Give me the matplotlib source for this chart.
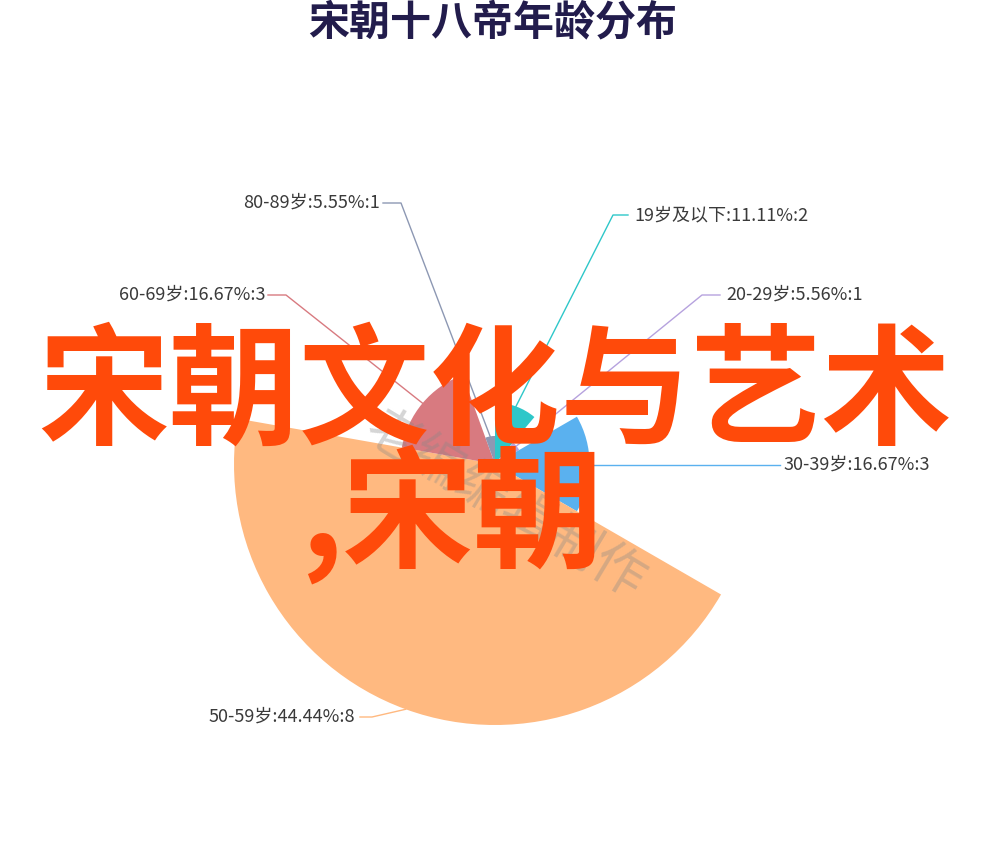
import math
import matplotlib
matplotlib.use("Agg")
import matplotlib.pyplot as plt
from matplotlib.patches import Wedge

plt.rcParams['font.family'] = ['Noto Sans CJK SC', 'DejaVu Sans']

# data
names = ["19岁及以下", "20-29岁", "30-39岁", "50-59岁", "60-69岁", "80-89岁"]
counts = [2, 1, 3, 8, 3, 1]
pcts = ["11.11%", "5.56%", "16.67%", "44.44%", "16.67%", "5.55%"]
colors = ["#2ec7c9", "#b6a2de", "#5ab1ef", "#ffb980", "#d87a80", "#8d98b3"]

W, H = 989, 867
fig = plt.figure(figsize=(W / 100, H / 100), dpi=100)
ax = fig.add_axes([0, 0, 1, 1])
ax.set_xlim(0, W)
ax.set_ylim(H, 0)
ax.axis("off")

cx, cy = 495, 464
r_min, r_max = 28, 261
total = sum(counts)
vmin, vmax = min(counts), max(counts)


def radius(v):
    return r_min + (v - vmin) / (vmax - vmin) * (r_max - r_min)


# rose pie, clockwise from 12 o'clock (y axis is flipped, so angles go the other way)
start = -90.0
mids = []
for v, c in zip(counts, colors):
    span = v / total * 360
    ax.add_patch(Wedge((cx, cy), radius(v), start, start + span, color=c, lw=0, zorder=2))
    mids.append(start + span / 2)
    start += span

# label positions: (elbow x, elbow y, end x, text x, ha)
label_pos = [
    (613, 215, 628, 634, "left"),
    (702, 295, 720, 726, "left"),
    (700, 465, 780, 783, "left"),
    (372, 717, 360, 355, "right"),
    (286, 295, 268, 265, "right"),
    (401, 203, 383, 380, "right"),
]

for i, (n, v, p, c) in enumerate(zip(names, counts, pcts, colors)):
    a = math.radians(mids[i])
    r = radius(v)
    x0 = cx + r * math.cos(a)
    y0 = cy + r * math.sin(a)
    ex, ey, tx_end, tx, ha = label_pos[i]
    if abs(y0 - ey) < 5:
        y0 = ey
    ax.plot([x0, ex, tx_end], [y0, ey, ey], color=c, lw=1, zorder=3)
    ax.text(tx, ey, f"{n}:{p}:{v}", ha=ha, va="center", fontsize=13,
            color="#3a3a3a", zorder=4)

ax.text(493, 22, "宋朝十八帝年龄分布", ha="center", va="center", fontsize=29.5,
        fontweight="bold", color="#221c4c")

# faint watermark
ax.text(505, 505, "老编编辑制作", ha="center", va="center", fontsize=38,
        rotation=-31, color="#888888", alpha=0.35, zorder=5)

# big overlay caption
ax.text(495, 396, "宋朝文化与艺术", ha="center", va="center", fontsize=94,
        fontweight="bold", color="#ff4a0a", zorder=6)
ax.text(300, 515, ",宋朝", ha="left", va="center", fontsize=94,
        fontweight="bold", color="#ff4a0a", zorder=6)

fig.savefig("out.png", dpi=100, facecolor="white")
